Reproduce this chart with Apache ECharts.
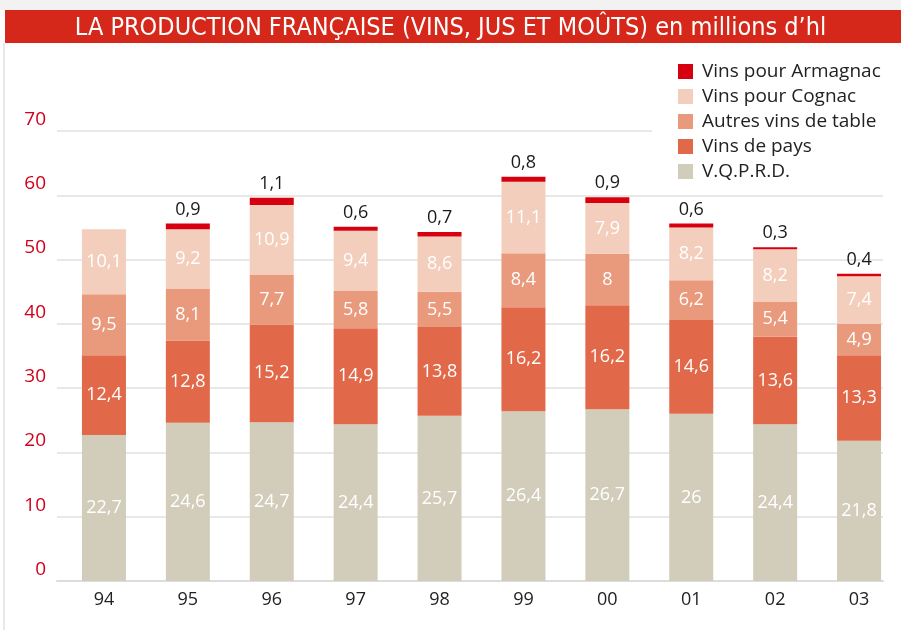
<!DOCTYPE html>
<html lang="fr">
<head>
    <meta charset="UTF-8">
    <title>Production française</title>
    <script src="https://cdn.jsdelivr.net/npm/echarts@6/dist/echarts.min.js"></script>
    <style>
        html, body { margin: 0; padding: 0; background: #fff; }
    </style>
</head>
<body>
    <div id="main" style="width: 901px; height: 630px;"></div>
    <script type="text/javascript">
        var years = ['94', '95', '96', '97', '98', '99', '00', '01', '02', '03'];
        var vqprd = [22.7, 24.6, 24.7, 24.4, 25.7, 26.4, 26.7, 26, 24.4, 21.8];
        var vinsDePays = [12.4, 12.8, 15.2, 14.9, 13.8, 16.2, 16.2, 14.6, 13.6, 13.3];
        var autresVins = [9.5, 8.1, 7.7, 5.8, 5.5, 8.4, 8, 6.2, 5.4, 4.9];
        var cognac = [10.1, 9.2, 10.9, 9.4, 8.6, 11.1, 7.9, 8.2, 8.2, 7.4];
        var armagnac = [null, 0.9, 1.1, 0.6, 0.7, 0.8, 0.9, 0.6, 0.3, 0.4];
        var yTicks = [0, 10, 20, 30, 40, 50, 60, 70];

        var font = 'Open Sans';
        var chartDom = document.getElementById('main');
        var myChart = echarts.init(chartDom);

        function fr(v) {
            return String(v).replace('.', ',');
        }

        function stackSerie(name, data, color, labelColor, pos) {
            return {
                name: name,
                type: 'bar',
                stack: 'total',
                xAxisIndex: 0,
                yAxisIndex: 0,
                barWidth: 44,
                data: data,
                itemStyle: { color: color },
                label: {
                    show: true,
                    position: pos || 'inside',
                    distance: 5,
                    color: labelColor,
                    fontFamily: font,
                    fontSize: 18,
                    formatter: function (p) { return p.value == null ? '' : fr(p.value); }
                }
            };
        }

        var option = {
            animation: false,
            title: {
                text: 'LA PRODUCTION FRANÇAISE (VINS, JUS ET MOÛTS) en millions d’hl',
                left: 'center',
                top: 11,
                textStyle: {
                    color: '#fff',
                    fontFamily: '"Liberation Sans Narrow", "DejaVu Sans Condensed", sans-serif',
                    fontWeight: 'normal',
                    fontSize: 25
                }
            },
            graphic: [
                { type: 'rect', shape: { x: 5, y: 10, width: 896, height: 33 }, style: { fill: '#d6281a' }, z: -1 },
                { type: 'rect', shape: { x: 0, y: 0, width: 901, height: 10 }, style: { fill: '#f2f2f2' }, z: -2 },
                { type: 'rect', shape: { x: 3, y: 43, width: 2, height: 587 }, style: { fill: '#e8e8e8' }, z: -1 }
            ],
            legend: {
                orient: 'vertical',
                left: 652,
                top: 54,
                padding: [8, 10, 8, 26],
                backgroundColor: '#fff',
                itemWidth: 15,
                itemHeight: 15,
                itemGap: 6,
                icon: 'rect',
                data: ['Vins pour Armagnac', 'Vins pour Cognac', 'Autres vins de table', 'Vins de pays', 'V.Q.P.R.D.'],
                textStyle: {
                    color: '#222',
                    fontFamily: font,
                    fontSize: 19,
                    lineHeight: 18,
                    padding: [0, 0, 0, 4]
                },
                z: 10
            },
            grid: [
                { left: 62, width: 841, top: 131, height: 450 },
                { left: 57, width: 826, top: 131, height: 450 }
            ],
            xAxis: [{
                type: 'category',
                gridIndex: 0,
                data: years,
                axisLine: { show: false },
                axisTick: { show: false },
                axisLabel: {
                    margin: 10,
                    color: '#222',
                    fontFamily: font,
                    fontSize: 18
                }
            }, {
                type: 'category',
                gridIndex: 1,
                data: years,
                axisLine: { lineStyle: { color: '#dcdcdc', width: 2 } },
                axisTick: { show: false },
                axisLabel: { show: false }
            }],
            yAxis: [{
                type: 'value',
                gridIndex: 0,
                min: 0,
                max: 70,
                interval: 10,
                axisLine: { show: false },
                axisTick: { show: false },
                axisLabel: { show: false },
                splitLine: { show: false }
            }, {
                type: 'value',
                gridIndex: 1,
                min: yTicks[0],
                max: yTicks[yTicks.length - 1],
                interval: 10,
                axisLine: { show: false },
                axisTick: { show: false },
                axisLabel: {
                    margin: 11,
                    verticalAlign: 'bottom',
                    padding: [0, 0, 2, 0],
                    color: '#d0021b',
                    fontFamily: font,
                    fontSize: 19
                },
                splitLine: { lineStyle: { color: '#e0e0e0', width: 1.5 } }
            }],
            series: [
                stackSerie('V.Q.P.R.D.', vqprd, '#d1cdba', '#fff'),
                stackSerie('Vins de pays', vinsDePays, '#e2684a', '#fff'),
                stackSerie('Autres vins de table', autresVins, '#ea9a7c', '#fff'),
                stackSerie('Vins pour Cognac', cognac, '#f4cebc', '#fff'),
                stackSerie('Vins pour Armagnac', armagnac, '#d7000f', '#1a1a1a', 'top')
            ]
        };

        option && myChart.setOption(option);
    </script>
</body>
</html>
